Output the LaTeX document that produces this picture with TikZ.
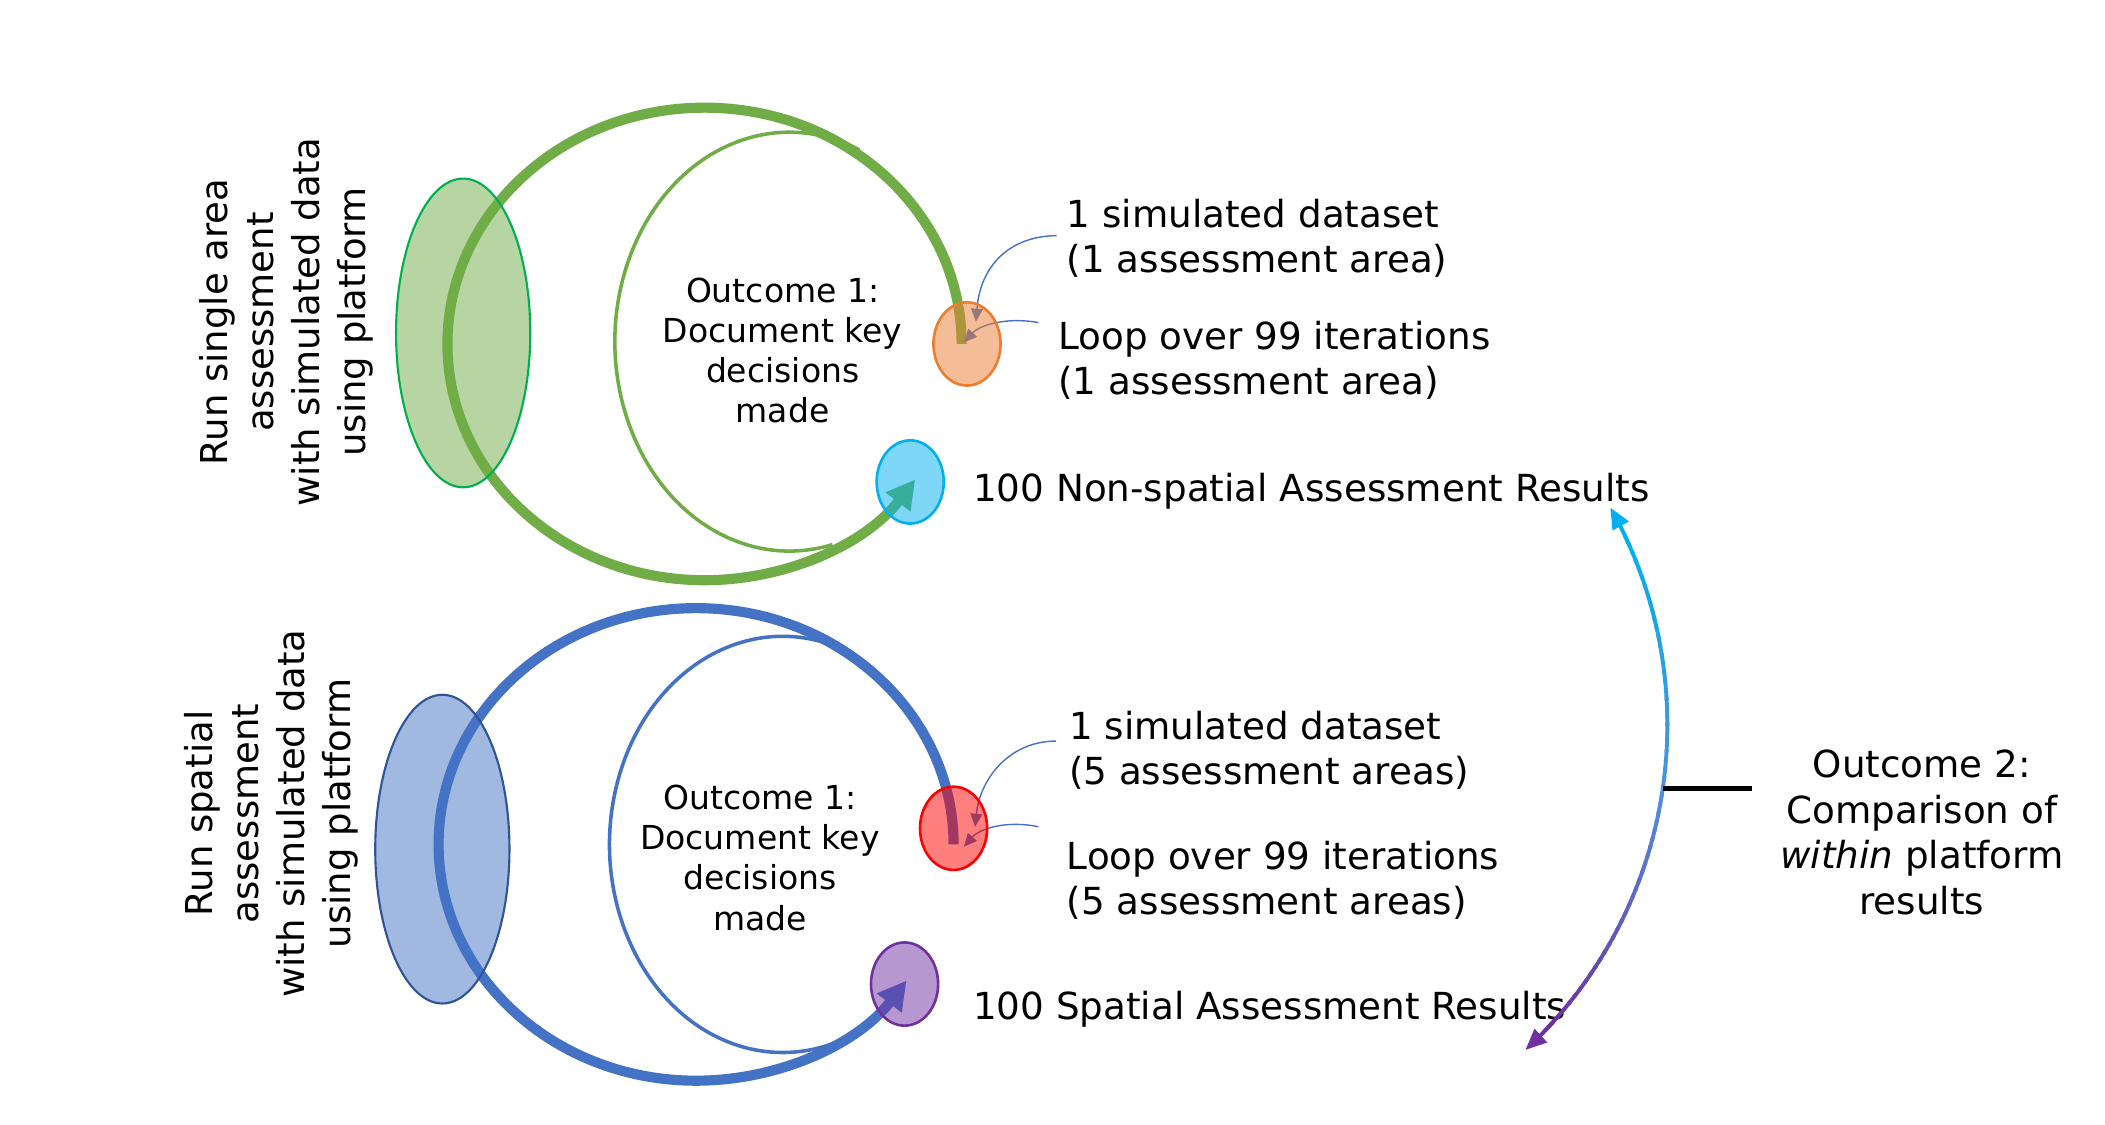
\documentclass[tikz,border=0pt]{standalone}
\usepackage{fontspec}
\setmainfont{DejaVu Sans}
\usetikzlibrary{arrows.meta,calc,shapes.geometric}
\definecolor{greenA}{HTML}{70AD47}
\definecolor{greenB}{HTML}{00B050}
\definecolor{blueA}{HTML}{4472C4}
\definecolor{blueB}{HTML}{2F5597}
\definecolor{orangeA}{HTML}{ED7D31}
\definecolor{cyanA}{HTML}{00B0F0}
\definecolor{redA}{HTML}{FF0000}
\definecolor{purpleA}{HTML}{7030A0}
\definecolor{midA}{HTML}{5090DC}
\begin{document}
\begin{tikzpicture}[x=0.02cm,y=-0.02cm,
  bigell/.style={ellipse, inner sep=0pt, minimum width=2cm, minimum height=4.6cm, line width=0.9pt, fill opacity=0.5},
  smallell/.style={ellipse, inner sep=0pt, minimum width=1cm, minimum height=1.24cm, line width=1.1pt, fill opacity=0.5},
  innerarc/.style={line width=1.5pt},
  thickarc/.style={line width=4.3pt, -{Triangle[length=12pt,width=12.5pt]}},
  pointer/.style={blueA, line width=0.6pt, -{Triangle[length=5.5pt,width=5pt]}},
  lbl/.style={anchor=west, align=left, inner sep=0pt, font=\fontsize{15.8}{19}\selectfont},
  vtext/.style={rotate=90, align=center, inner sep=0pt, font=\fontsize{15.7}{19.5}\selectfont},
  otext/.style={align=center, inner sep=0pt, font=\fontsize{14}{17}\selectfont},
  gradw/.style={line width=1.65pt},
]
\useasboundingbox (0,0) rectangle (1568,838);
\fill[white] (0,0) rectangle (1568,838);

% ---------- positions of the small ellipses (nodes drawn later)
\coordinate (orngC) at (720.3,256.2);
\coordinate (cynC) at (678,359);
\coordinate (rdC) at (710.3,617);
\coordinate (prpC) at (673.8,733);

% ---------- inner thin arcs (open on the right, merging into the thick loops)
\coordinate (gin) at (588,254.5);
\coordinate (bin) at (583,629);
\draw[innerarc, greenA] ($(gin)+({130*cos(-66.4)},{156*sin(-66.4)})$)
  arc[start angle=-66.4, end angle=-284.3, x radius=130, y radius=156];
\draw[innerarc, blueA] ($(bin)+({129*cos(-71.5)},{155*sin(-71.5)})$)
  arc[start angle=-71.5, end angle=-288, x radius=129, y radius=155];

% ---------- thick loop arcs
\draw[thickarc, greenA] ($(orngC)+(-4,0)$) arc[start angle=0, end angle=-325, x radius=191.5, y radius=176];
\draw[thickarc, blueA] ($(rdC)+(0,12)$) arc[start angle=0, end angle=-324.8, x radius=191.8, y radius=176];

% ---------- big left ellipses
\node[bigell, draw=greenB, fill=greenA] (gbig) at (345,248) {};
\node[bigell, draw=blueB, fill=blueA] (bbig) at (329.5,632.5) {};

% ---------- labels
\node[vtext] (vt1) at (213,240) {Run single area\\assessment\\with simulated data\\using platform};
\node[vtext] (vt2) at (202,606) {Run spatial\\assessment\\with simulated data\\using platform};
\node[otext] (oc1) at (583,261) {Outcome 1:\\Document key\\decisions\\made};
\node[otext] (oc2) at (566,639) {Outcome 1:\\Document key\\decisions\\made};

\node[lbl] (ds1) at (794.4,177.4) {1 simulated dataset\\(1 assessment area)};
\node[lbl] (lp1) at (788,268.5) {Loop over 99 iterations\\(1 assessment area)};
\node[lbl] (res1) at (724.6,366) {100 Non-spatial Assessment Results};
\node[lbl] (ds2) at (796,559) {1 simulated dataset\\(5 assessment areas)};
\node[lbl] (lp2) at (794.4,655.8) {Loop over 99 iterations\\(5 assessment areas)};
\node[lbl] (res2) at (724.6,752) {100 Spatial Assessment Results};

% ---------- thin pointers
\coordinate (p1s) at (787,175.5);
\coordinate (p2s) at (773.5,240.3);
\coordinate (p3s) at (786.6,552);
\coordinate (p4s) at (773.5,615.8);
\draw[pointer] (p1s) .. controls (750,176) and (730,200) .. ($(orngC)+(6.7,-16.6)$);
\draw[pointer] (p2s) .. controls (750,236) and (730,242) .. ($(orngC)+(-2.3,-1.2)$);
\draw[pointer] (p3s) .. controls (752,552) and (730,580) .. ($(rdC)+(16,-1.2)$);
\draw[pointer] (p4s) .. controls (750,611) and (730,617) .. ($(rdC)+(7.7,13.7)$);

% ---------- small translucent ellipses
\node[smallell, draw=orangeA, fill=orangeA] (orng) at (orngC) {};
\node[smallell, draw=cyanA, fill=cyanA] (cyn) at (cynC) {};
\node[smallell, draw=redA, fill=redA] (rd) at (rdC) {};
\node[smallell, draw=purpleA, fill=purpleA] (prp) at (prpC) {};

% ---------- comparison arc with colour gradient
\coordinate (gc) at (912,540);
\foreach \i in {0,...,59}{
  \pgfmathsetmacro{\aa}{-25.4+\i*68.6/60}
  \pgfmathsetmacro{\bb}{-25.4+(\i+1.4)*68.6/60}
  \pgfmathsetmacro{\pp}{100*\i/59}
  \ifdim\pp pt<50pt
    \pgfmathsetmacro{\qq}{2*\pp}
    \draw[gradw, color=midA!\qq!cyanA] ($(gc)+(\aa:330)$) arc[start angle=\aa, end angle=\bb, radius=330];
  \else
    \pgfmathsetmacro{\qq}{2*\pp-100}
    \draw[gradw, color=purpleA!\qq!midA] ($(gc)+(\aa:330)$) arc[start angle=\aa, end angle=\bb, radius=330];
  \fi
}
\draw[gradw, cyanA, -{Triangle[length=9pt,width=7.5pt]}] ($(gc)+(-24.4:330)$) arc[start angle=-24.4, end angle=-29.4, radius=330];
\draw[gradw, purpleA, -{Triangle[length=9pt,width=7.5pt]}] ($(gc)+(42.2:330)$) arc[start angle=42.2, end angle=47.2, radius=330];

\node[align=center, inner ysep=0pt, inner xsep=12pt, font=\fontsize{15.8}{19.3}\selectfont] (o2) at (1431.6,620) {Outcome 2:\\Comparison of\\\textit{within} platform\\results};
\coordinate (barA) at ($(gc)+(8.29:330)$);
\draw[line width=2pt] (barA) -- (barA -| o2.west);
\end{tikzpicture}
\end{document}
